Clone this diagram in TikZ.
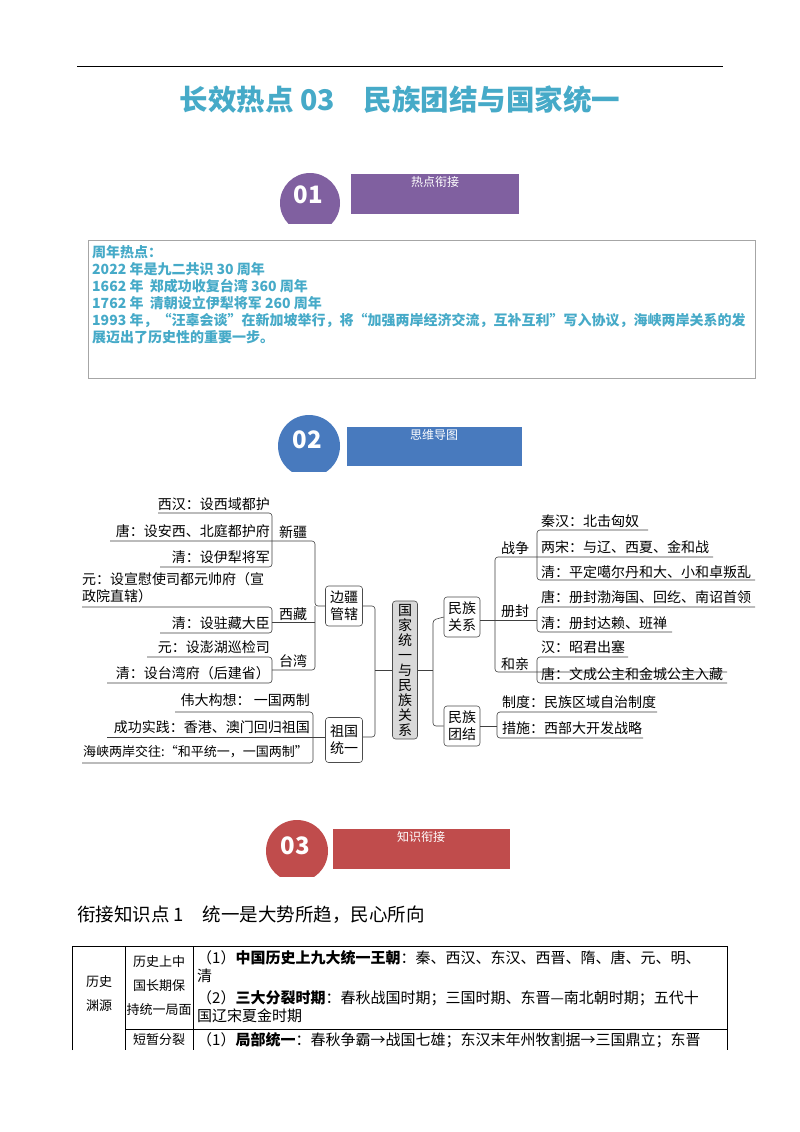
\documentclass[tikz,border=0pt]{standalone}
\usepackage{fontspec}
\setmainfont{Noto Sans CJK SC}
\definecolor{teal1}{RGB}{70,170,200}
\definecolor{purp}{RGB}{128,96,160}
\definecolor{blu}{RGB}{72,122,190}
\definecolor{redd}{RGB}{192,76,76}
\tikzset{
 leaf/.style={font=\fontsize{14}{15}\selectfont, inner sep=0pt},
 lw/.style={anchor=west},
 le/.style={anchor=east},
 cat/.style={font=\fontsize{14}{15}\selectfont, inner sep=0pt},
 mbox/.style={draw=black!70, rounded corners=3pt, line width=0.6pt, font=\fontsize{14}{17}\selectfont, align=center, inner sep=1pt},
 ln/.style={draw=black!75, line width=0.6pt},
 rl/.style={ln, rounded corners=3pt},
 badgetxt/.style={text=white, font=\fontsize{12}{14}\selectfont},
 num/.style={text=white, font=\bfseries\fontsize{24}{24}\selectfont},
 tt/.style={font=\fontsize{13}{15}\selectfont, inner sep=0pt, anchor=west},
}
\begin{document}
\begin{tikzpicture}[x=1pt,y=-1pt]
\useasboundingbox (0,0) rectangle (800,1132);
\fill[white] (0,0) rectangle (800,1132);
% top rule and title
\draw[line width=0.8pt] (77,66) -- (723,66);
\node[text=teal1, font=\bfseries\fontsize{28.5}{30}\selectfont] (title) at (400,100) {长效热点 03\quad 民族团结与国家统一};
% badge 01
\begin{scope}\clip (270,160) rectangle (350,223);\fill[purp] (310,203) circle (30);\end{scope}
\node[num] (n1) at (308,195) {01};
\fill[purp] (351,174) rectangle (519,214);
\node[badgetxt] (b1) at (435,182) {热点衔接};
% box 1
\draw[black!35, line width=0.8pt] (88,240) rectangle (755,378);
\begin{scope}[every node/.style={tt, text=teal1, font=\bfseries\fontsize{14}{15}\selectfont}]
\node (h1) at (92,252) {周年热点：};
\node (h2) at (92,269) {2022 年是九二共识 30 周年};
\node (h3) at (92,286) {1662 年\ \ 郑成功收复台湾 360 周年};
\node (h4) at (92,303) {1762 年\ \ 清朝设立伊犁将军 260 周年};
\node (h5) at (92,320) {1993 年，“汪辜会谈”在新加坡举行，将“加强两岸经济交流，互补互利”写入协议，海峡两岸关系的发};
\node (h6) at (92,337) {展迈出了历史性的重要一步。};
\end{scope}
% badge 02
\begin{scope}\clip (270,400) rectangle (350,471);\fill[blu] (309,446) circle (31);\end{scope}
\node[num] (n2) at (307,440) {02};
\fill[blu] (347,427) rectangle (522,466);
\node[badgetxt] (b2) at (434,435) {思维导图};
% ===== mind map =====
\node[mbox, fill=black!15, minimum width=25pt, minimum height=138pt, inner sep=0pt, font=\fontsize{14}{15}\selectfont] (center) at (405,670) {国\\家\\统\\一\\与\\民\\族\\关\\系};
\node[mbox, minimum width=37pt, minimum height=40pt] (bj) at (344,606) {边疆\\管辖};
\node[mbox, minimum width=37pt, minimum height=45pt] (zg) at (344,740) {祖国\\统一};
\node[mbox, minimum width=36pt, minimum height=40pt] (mg) at (462,617) {民族\\关系};
\node[mbox, minimum width=36pt, minimum height=40pt] (mt) at (462,726) {民族\\团结};
% center links
\draw[ln] (center.west) -- (375,670);
\draw[rl] (bj.east) -- (375,606) -- (375,737) -- (zg.east |- 0,737);
\draw[ln] (center.east) -- (433,670);
\draw[rl] (mg.west) -- (433,620) -- (433,726) -- (mt.west);
% Xinjiang
\node[cat] (xj) at (293,532) {新疆};
\node[cat] (xz) at (293,614) {西藏};
\node[cat] (tw) at (293,661) {台湾};
\draw[rl] (bj.west |- 0,606) -- (315,606) -- (315,541) -- (110,541);
\draw[rl] (315,606) -- (315,670) -- (272,670);
\draw[ln] (315,622) -- (272,622);
\node[leaf,le] (l1) at (270,504) {西汉：设西域都护};
\node[leaf,le] (l2) at (270,531) {唐：设安西、北庭都护府};
\node[leaf,le] (l3) at (270,557) {清：设伊犁将军};
\draw[rl] (158,513) -- (272,513) -- (272,567) -- (160,567);
\node[leaf, anchor=north west, align=left] (l4) at (82,572) {元：设宣慰使司都元帅府（宣\\[2pt]政院直辖）};
\node[leaf,le] (l5) at (270,623) {清：设驻藏大臣};
\draw[rl] (82,607) -- (272,607) -- (272,633) -- (160,633);
\node[leaf,le] (l6) at (270,647) {元：设澎湖巡检司};
\node[leaf,le] (l7) at (270,673) {清：设台湾府（后建省）};
\draw[rl] (147,657) -- (272,657) -- (272,683) -- (107,683);
% Zuguo tongyi
\node[leaf,le] (l8) at (310,700) {伟大构想：\ 一国两制};
\node[leaf,le] (l9) at (310,727) {成功实践：香港、澳门回归祖国};
\node[leaf,lw, font=\fontsize{13}{14}\selectfont] (l10) at (83,752) {海峡两岸交往:“和平统一，一国两制”};
\draw[rl] (175,712) -- (313,712) -- (313,763) -- (82,763);
\draw[ln] (107,737) -- (zg.west |- 0,737);
% Minzu guanxi
\draw[rl] (mg.east |- 0,620) -- (495,620);
\draw[rl] (713,557) -- (495,557) -- (495,672) -- (727,672);
\draw[ln] (495,620) -- (537,620);
\node[cat] (zz) at (515,548) {战争};
\node[cat] (cf) at (515,611) {册封};
\node[cat] (hq) at (515,664) {和亲};
\node[leaf,lw] (r1) at (541,521) {秦汉：北击匈奴};
\node[leaf,lw] (r2) at (541,547) {两宋：与辽、西夏、金和战};
\node[leaf,lw] (r3) at (541,572) {清：平定噶尔丹和大、小和卓叛乱};
\draw[rl] (648,530) -- (537,530) -- (537,580) -- (755,580);
\node[leaf,lw] (r4) at (541,597) {唐：册封渤海国、回纥、南诏首领};
\node[leaf,lw] (r5) at (541,623) {清：册封达赖、班禅};
\draw[rl] (755,607) -- (537,607) -- (537,632) -- (672,632);
\node[leaf,lw] (r6) at (541,647) {汉：昭君出塞};
\node[leaf,lw] (r7) at (541,674) {唐：文成公主和金城公主入藏};
\draw[rl] (628,657) -- (537,657) -- (537,683) -- (727,683);
% Minzu tuanjie
\draw[ln] (mt.east) -- (497,726);
\draw[rl] (657,712) -- (497,712) -- (497,738) -- (643,738);
\node[leaf,lw] (r8) at (502,702) {制度：民族区域自治制度};
\node[leaf,lw] (r9) at (502,728) {措施：西部大开发战略};
% badge 03
\begin{scope}\clip (255,810) rectangle (335,876);\fill[redd] (297,851) circle (31);\end{scope}
\node[num] (n3) at (295,846) {03};
\fill[redd] (333,829) rectangle (510,869);
\node[badgetxt] (b3) at (421,837) {知识衔接};
% section heading
\node[anchor=west, inner sep=0pt, font=\fontsize{18.5}{20}\selectfont] (sec) at (77,915) {衔接知识点 1\quad 统一是大势所趋，民心所向};
% table
\draw[line width=0.6pt] (72,1050) -- (72,946) -- (727,946) -- (727,1050);
\draw[line width=0.6pt] (125,946) -- (125,1050);
\draw[line width=0.6pt] (193,946) -- (193,1050);
\draw[line width=0.6pt] (125,1029) -- (727,1029);
\begin{scope}[every node/.style={font=\fontsize{13}{15}\selectfont, inner sep=0pt}]
\node (t1) at (99,982) {历史};
\node (t2) at (99,1006) {渊源};
\node (t3) at (159,962) {历史上中};
\node (t4) at (159,986) {国长期保};
\node (t5) at (159,1010) {持统一局面};
\node (t6) at (159,1040) {短暂分裂};
\end{scope}
\begin{scope}[every node/.style={font=\fontsize{15}{16}\selectfont, inner sep=0pt, anchor=west}]
\node (t7) at (197,958) {（1）\textbf{中国历史上九大统一王朝}：秦、西汉、东汉、西晋、隋、唐、元、明、};
\node (t8) at (197,976) {清};
\node (t9) at (197,998) {（2）\textbf{三大分裂时期}：春秋战国时期；三国时期、东晋—南北朝时期；五代十};
\node (t10) at (197,1016) {国辽宋夏金时期};
\node (t11) at (197,1040) {（1）\textbf{局部统一}：春秋争霸→战国七雄；东汉末年州牧割据→三国鼎立；东晋};
\end{scope}
\end{tikzpicture}
\end{document}
